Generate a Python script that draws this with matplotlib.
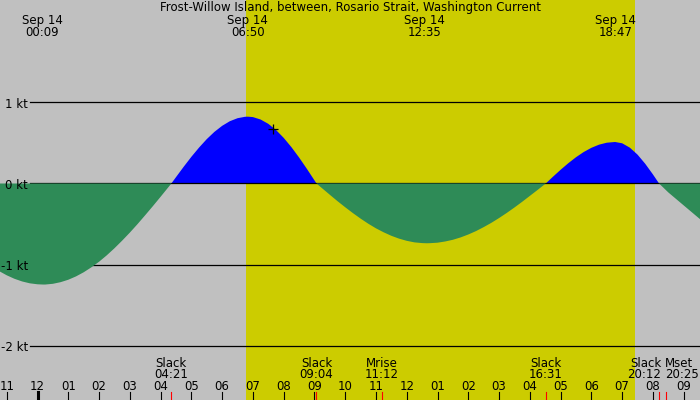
import matplotlib
matplotlib.use('Agg')
import matplotlib.pyplot as plt
import matplotlib.transforms as mtransforms

plt.rcParams['font.family'] = ['DejaVu Sans']

title = 'Frost-Willow Island, between, Rosario Strait, Washington Current'

# current speed (hours since midnight Sep 14, knots)
hours = [-1.25, -1.0, -0.75, -0.5, -0.25, 0.0, 0.18, 0.25, 0.5, 0.75, 1.0,
         1.25, 1.5, 1.75, 2.0, 2.25, 2.5, 2.75, 3.0, 3.25, 3.5, 3.75, 4.0,
         4.25, 4.35, 4.5, 4.75, 5.0, 5.25, 5.5, 5.75, 6.0, 6.25, 6.5, 6.75,
         6.84, 7.0, 7.25, 7.5, 7.75, 8.0, 8.25, 8.5, 8.75, 9.0, 9.067, 9.25,
         9.5, 9.75, 10.0, 10.25, 10.5, 10.75, 11.0, 11.25, 11.5, 11.75, 12.0,
         12.25, 12.5, 12.65, 12.75, 13.0, 13.25, 13.5, 13.75, 14.0, 14.25,
         14.5, 14.75, 15.0, 15.25, 15.5, 15.75, 16.0, 16.25, 16.517, 16.75,
         17.0, 17.25, 17.5, 17.75, 18.0, 18.25, 18.5, 18.77, 19.0, 19.25,
         19.5, 19.75, 20.0, 20.2, 20.5, 20.75, 21.0, 21.25, 21.5, 21.6]
knots = [-1.080, -1.132, -1.175, -1.208, -1.231, -1.243, -1.246, -1.246,
         -1.237, -1.217, -1.187, -1.146, -1.095, -1.034, -0.965, -0.886,
         -0.799, -0.705, -0.606, -0.501, -0.391, -0.279, -0.164, -0.047, 0.0,
         0.078, 0.206, 0.329, 0.443, 0.547, 0.637, 0.711, 0.768, 0.805, 0.823,
         0.824, 0.819, 0.789, 0.736, 0.660, 0.563, 0.449, 0.321, 0.183, 0.039,
         0.0, -0.059, -0.139, -0.218, -0.293, -0.365, -0.433, -0.496, -0.553,
         -0.602, -0.645, -0.680, -0.707, -0.726, -0.735, -0.737, -0.736,
         -0.730, -0.715, -0.694, -0.665, -0.629, -0.587, -0.538, -0.485,
         -0.426, -0.363, -0.296, -0.226, -0.153, -0.080, 0.0, 0.083, 0.169,
         0.250, 0.324, 0.388, 0.440, 0.479, 0.503, 0.512, 0.496, 0.442, 0.356,
         0.243, 0.112, 0.0, -0.11, -0.19, -0.27, -0.35, -0.43, -0.46]

top_times = ['00:09', '06:50', '12:35', '18:47']
top_date = 'Sep 14'

event_names = ['Slack', 'Slack', 'Mrise', 'Slack', 'Slack', 'Mset']
event_times = ['04:21', '09:04', '11:12', '16:31', '20:12', '20:25']
event_align = ['center', 'center', 'center', 'center', 'right', 'left']

day_start, day_end = 6.77, 19.43
now_hour, now_kt = 7.66, 0.67
kt_levels = [1, 0, -1, -2]
hour_ticks = list(range(-1, 22))


def to_hours(s):
    h, m = s.split(':')
    return int(h) + int(m) / 60.0


W, H = 700, 400
fig = plt.figure(figsize=(7, 4), dpi=100)
fig.patch.set_facecolor('#c0c0c0')
ax = fig.add_axes([0, 0, 1, 1])
ax.set_facecolor('#c0c0c0')
ax.set_xlim(-1.219, 21.53)
ax.set_ylim(-2.670, 2.263)
ax.axis('off')


def py(p):
    # pixel row from top -> axes fraction
    return 1 - p / H


trans = mtransforms.blended_transform_factory(ax.transData, ax.transAxes)
ytrans = mtransforms.offset_copy(ax.get_yaxis_transform(), fig=fig, x=0, y=-5.3, units='dots')
txt = dict(va='baseline', fontsize=8.5, zorder=6)

ax.axvspan(day_start, day_end, color='#cccc00', lw=0, zorder=0)

for lv in kt_levels:
    ax.axhline(lv, xmin=30 / W, color='black', lw=0.9, zorder=1 if lv != 0 else 2.5)
    ax.text(28 / W, lv, f'{lv} kt', transform=ytrans, ha='right', **txt)

pos = [k >= 0 for k in knots]
neg = [k <= 0 for k in knots]
ax.fill_between(hours, knots, 0, where=pos, interpolate=True, color='#0000ff', lw=0, zorder=2)
ax.fill_between(hours, knots, 0, where=neg, interpolate=True, color='#2e8b57', lw=0, zorder=3)

ax.plot([now_hour], [now_kt], marker='+', color='black', ms=7, mew=0.9, zorder=4)

ax.text(0.5, py(11.5), title, transform=ax.transAxes, ha='center', **txt)
for s in top_times:
    x = to_hours(s)
    ax.text(x, py(24.3), top_date, transform=trans, ha='center', **txt)
    ax.text(x, py(36), s, transform=trans, ha='center', **txt)

for name, s, al in zip(event_names, event_times, event_align):
    x = to_hours(s)
    dx = {'center': 0, 'right': 2, 'left': -1}[al]
    tr = mtransforms.offset_copy(trans, fig=fig, x=dx, y=0, units='dots')
    ax.text(x, py(366.7), name, transform=tr, ha=al, **txt)
    ax.text(x, py(378), s, transform=tr, ha=al, **txt)
    ax.axvline(x, ymin=0, ymax=8 / H, color='red', lw=0.8, zorder=5)

for h in hour_ticks:
    lab = '%02d' % (h % 12 if h % 12 else 12)
    ax.text(h, py(390), lab, transform=trans, ha='center', **txt)
    ax.axvline(h, ymin=0, ymax=8 / H, color='black',
               lw=2.2 if h % 24 == 0 else 0.8, zorder=5)

fig.savefig('out.png', dpi=100, facecolor=fig.get_facecolor())
